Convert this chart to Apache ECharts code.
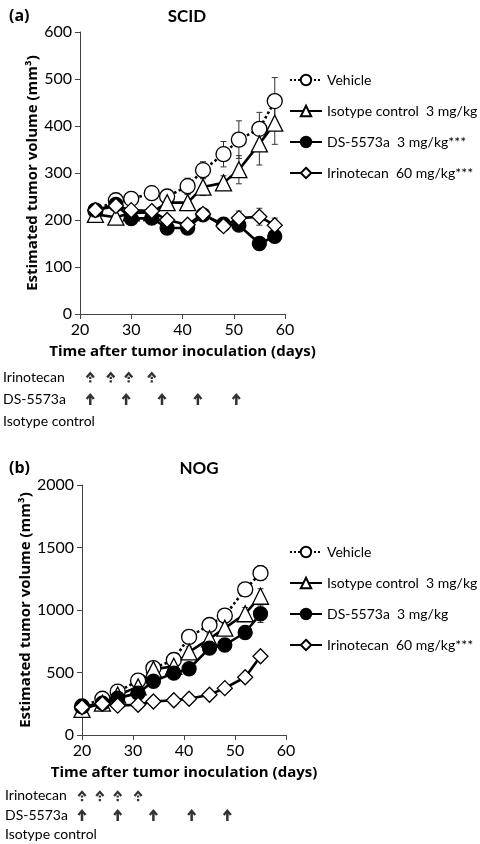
<!DOCTYPE html>
<html>
<head>
<meta charset="utf-8">
<script src="https://cdn.jsdelivr.net/npm/echarts@6/dist/echarts.min.js"></script>
<style>
  html, body { margin: 0; padding: 0; background: #fff; }
  #chart { width: 480px; height: 844px; }
</style>
</head>
<body>
<div id="chart"></div>
<script>
// panel (a) SCID
const daysA = [23, 27, 30, 34, 37, 41, 44, 48, 51, 55, 58];
const vehicleA = [220, 242, 245, 257, 250, 272, 306, 340, 371, 394, 453];
const vehicleErrA = [5, 8, 8, 8, 10, 17, 18, 27, 40, 35, 50];
const isotypeA = [212, 206, 215, 216, 237, 237, 270, 279, 307, 362, 406];
const isotypeErrA = [5, 8, 8, 8, 10, 17, 18, 15, 30, 45, 45];
const dsA = [221, 233, 203, 204, 183, 183, 211, 191, 189, 150, 165];
const dsErrA = [5, 5, 5, 5, 5, 5, 8, 8, 8, 10, 10];
const iriA = [221, 230, 221, 219, 200, 190, 213, 187, 204, 207, 189];
const iriErrA = [5, 5, 5, 5, 8, 8, 8, 8, 15, 18, 15];

// panel (b) NOG
const daysB = [20, 24, 27, 31, 34, 38, 41, 45, 48, 52, 55];
const vehicleB = [228, 290, 347, 435, 535, 600, 785, 880, 955, 1165, 1295];
const vehicleErrB = [10, 15, 20, 20, 30, 30, 40, 40, 40, 50, 60];
const isotypeB = [205, 255, 320, 385, 525, 550, 665, 770, 855, 970, 1110];
const isotypeErrB = [10, 15, 20, 20, 30, 30, 40, 40, 40, 50, 60];
const dsB = [225, 255, 295, 335, 430, 495, 530, 695, 720, 820, 970];
const dsErrB = [10, 15, 20, 20, 30, 30, 40, 40, 40, 50, 70];
const iriB = [222, 250, 235, 242, 268, 278, 290, 322, 375, 462, 630];
const iriErrB = [10, 10, 10, 10, 15, 15, 15, 20, 20, 30, 30];

// dosing days (arrows)
const doseRows = ['Irinotecan', 'DS-5573a', 'Isotype control'];
const iriDoseA = [22, 26, 29.5, 34];
const dsDoseA = [22, 29, 36, 43, 50.5];
const iriDoseB = [20, 23.5, 27, 31];
const dsDoseB = [20, 27, 34, 41.5, 48.5];

const namesA = ['Vehicle', 'Isotype control  3 mg/kg', 'DS-5573a  3 mg/kg***', 'Irinotecan  60 mg/kg***'];
// trailing space keeps the second panel's series names distinct; it is trimmed in the legend
const namesB = ['Vehicle ', 'Isotype control  3 mg/kg ', 'DS-5573a  3 mg/kg', 'Irinotecan  60 mg/kg*** '];

const FONT = 'Lato';
const FONT_B = 'Open Sans';
const styles = [
  { symbol: 'circle', size: 15, fill: '#fff', line: 'dotted' },
  { symbol: 'triangle', size: 16, fill: '#fff', line: 'solid' },
  { symbol: 'circle', size: 14, fill: '#000', line: 'solid' },
  { symbol: 'diamond', size: 15, fill: '#fff', line: 'solid' }
];

const arrowSolid = 'path://M5,0 L10,6 L7.8,7.8 L6.4,5.6 L6.4,14 L3.6,14 L3.6,5.6 L2.2,7.8 L0,6 Z';
const arrowDotted = 'path://M5,0 L10,5.6 L8,7.4 L5,3.8 L2,7.4 L0,5.6 Z M3.7,5.8 L6.3,5.8 L6.3,8.2 L3.7,8.2 Z M3.7,9.8 L6.3,9.8 L6.3,12.2 L3.7,12.2 Z';

function lineSeries(name, days, vals, st, gi) {
  return {
    type: 'line', name: name, xAxisIndex: gi, yAxisIndex: gi,
    data: days.map((d, i) => [d, vals[i]]),
    symbol: st.symbol, symbolSize: st.size, showAllSymbol: true,
    lineStyle: { color: '#000', width: 2.6, type: st.line },
    itemStyle: { color: st.fill, borderColor: '#000', borderWidth: 1.3 },
    z: 3
  };
}

function errSeries(days, vals, errs, gi) {
  return {
    type: 'custom', xAxisIndex: gi, yAxisIndex: gi, silent: true, z: 2,
    data: days.map((d, i) => [d, vals[i] - errs[i], vals[i] + errs[i]]),
    encode: { x: 0, y: [1, 2] },
    renderItem: function (params, api) {
      const lo = api.coord([api.value(0), api.value(1)]);
      const hi = api.coord([api.value(0), api.value(2)]);
      const w = 3;
      const st = { stroke: '#333', lineWidth: 1 };
      return {
        type: 'group',
        children: [
          { type: 'line', shape: { x1: lo[0], y1: lo[1], x2: hi[0], y2: hi[1] }, style: st },
          { type: 'line', shape: { x1: lo[0] - w, y1: lo[1], x2: lo[0] + w, y2: lo[1] }, style: st },
          { type: 'line', shape: { x1: hi[0] - w, y1: hi[1], x2: hi[0] + w, y2: hi[1] }, style: st }
        ]
      };
    }
  };
}

function doseSeries(days, row, symbol, size, gi) {
  return {
    type: 'scatter', xAxisIndex: gi, yAxisIndex: gi, silent: true,
    data: days.map(d => [d, row]),
    symbol: symbol, symbolSize: size,
    itemStyle: { color: '#000' }
  };
}

const axisText = { color: '#000', fontFamily: FONT, fontSize: 16, formatter: v => String(v) };
const nameText = { color: '#000', fontFamily: FONT_B, fontSize: 15, fontWeight: 'bold' };
const axisLine = { show: true, lineStyle: { color: '#444', width: 1 } };

function valueX(gi) {
  return {
    type: 'value', gridIndex: gi, min: 20, max: 60, interval: 10,
    name: 'Time after tumor inoculation (days)', nameLocation: 'middle', nameGap: 30,
    nameTextStyle: nameText, axisLine: axisLine,
    axisTick: { show: true, length: 5, lineStyle: { color: '#444' } },
    axisLabel: axisText, splitLine: { show: false }
  };
}
function valueY(gi, max, interval, gap) {
  return {
    type: 'value', gridIndex: gi, min: 0, max: max, interval: interval,
    name: 'Estimated tumor volume (mm³)', nameLocation: 'middle', nameRotate: 90,
    nameGap: gap,
    nameTextStyle: nameText, axisLine: axisLine,
    axisTick: { show: true, length: 5, lineStyle: { color: '#444' } },
    axisLabel: axisText, splitLine: { show: false }
  };
}
function doseX(gi) {
  return { type: 'value', gridIndex: gi, min: 20, max: 60, show: false };
}
function doseY(gi) {
  return {
    type: 'category', gridIndex: gi, data: doseRows, inverse: true,
    axisLine: { show: false }, axisTick: { show: false },
    axisLabel: { color: '#000', fontFamily: FONT, fontSize: 14, align: 'left', margin: 77 }
  };
}

const series = [];
const setsA = [[vehicleA, vehicleErrA], [isotypeA, isotypeErrA], [dsA, dsErrA], [iriA, iriErrA]];
const setsB = [[vehicleB, vehicleErrB], [isotypeB, isotypeErrB], [dsB, dsErrB], [iriB, iriErrB]];
setsA.forEach(s => series.push(errSeries(daysA, s[0], s[1], 0)));
setsA.forEach((s, i) => series.push(lineSeries(namesA[i], daysA, s[0], styles[i], 0)));
setsB.forEach(s => series.push(errSeries(daysB, s[0], s[1], 2)));
setsB.forEach((s, i) => series.push(lineSeries(namesB[i], daysB, s[0], styles[i], 2)));
series.push(doseSeries(iriDoseA, 'Irinotecan', arrowDotted, [9, 11], 1));
series.push(doseSeries(dsDoseA, 'DS-5573a', arrowSolid, [9, 12], 1));
series.push(doseSeries(iriDoseB, 'Irinotecan', arrowDotted, [9, 11], 3));
series.push(doseSeries(dsDoseB, 'DS-5573a', arrowSolid, [9, 12], 3));

const legendBase = {
  orient: 'vertical', left: 284, itemGap: 17, itemWidth: 32, itemHeight: 13,
  textStyle: { color: '#000', fontFamily: FONT, fontSize: 14 },
  formatter: n => n.trim(), selectedMode: false
};

const titleStyle = { fontFamily: FONT_B, fontSize: 16, fontWeight: 'bold', color: '#000' };
const headStyle = { fontFamily: FONT, fontSize: 17, fontWeight: 'bold', color: '#000' };

const chart = echarts.init(document.getElementById('chart'));
chart.setOption({
  animation: false,
  backgroundColor: '#fff',
  title: [
    { text: '(a)', left: 4, top: 3, textStyle: titleStyle },
    { text: 'SCID', left: 182, top: 3, textAlign: 'center', textStyle: headStyle },
    { text: '(b)', left: 4, top: 455, textStyle: titleStyle },
    { text: 'NOG', left: 194, top: 455, textAlign: 'center', textStyle: headStyle }
  ],
  legend: [
    Object.assign({}, legendBase, { top: 68, data: namesA }),
    Object.assign({}, legendBase, { top: 540, data: namesB })
  ],
  grid: [
    { left: 80, top: 32, width: 205, height: 282 },
    { left: 80, top: 366, width: 205, height: 66 },
    { left: 82, top: 485, width: 204, height: 250 },
    { left: 82, top: 786, width: 204, height: 63 }
  ],
  xAxis: [valueX(0), doseX(1), valueX(2), doseX(3)],
  yAxis: [valueY(0, 600, 100, 40), doseY(1), valueY(2, 2000, 500, 45), doseY(3)],
  series: series
});
</script>
</body>
</html>
